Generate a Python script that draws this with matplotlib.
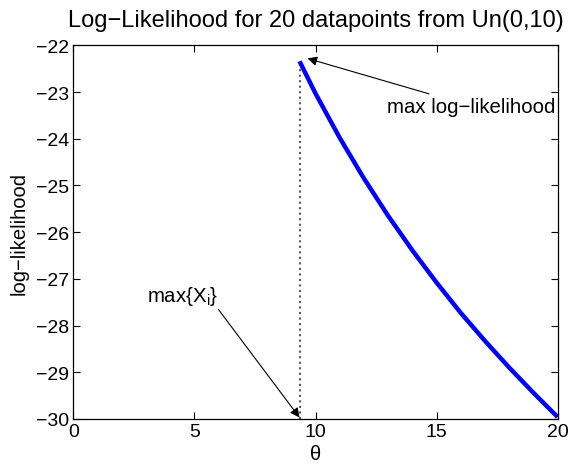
import numpy as np
from matplotlib import pyplot as plt

plt.rcParams['font.family'] = ['Liberation Sans', 'DejaVu Sans']

# === DATA ===
theta = [9.34, 10, 11, 12, 13, 14, 15, 16, 17, 18, 19, 20]
loglik = [-22.34, -23.03, -23.98, -24.85, -25.65, -26.39, -27.08, -27.73, -28.33, -28.90, -29.44, -29.96]
max_x = 9.34
x_ticks = [0, 5, 10, 15, 20]
y_ticks = [-30, -29, -28, -27, -26, -25, -24, -23, -22]

fig = plt.figure(figsize=(5.69, 4.64), dpi=100)
ax = fig.add_axes([0.129, 0.095, 0.851, 0.805])

# dotted marker at max{X_i}
ax.plot([max_x, max_x], [y_ticks[0], loglik[0]], color='0.35', linestyle=':', linewidth=1.5)
ax.plot(theta, loglik, color='#0000ff', linewidth=3.2, solid_capstyle='butt')

arrow = dict(arrowstyle='-|>', color='black', linewidth=0.8, mutation_scale=14, shrinkA=0, shrinkB=0)
ax.annotate('max log\u2212likelihood', xy=(9.67, -22.28), xytext=(12.95, -23.3),
            fontsize=14.7, va='center', ha='left', arrowprops=arrow)
ax.annotate('max{X$_\\mathregular{i}$}', xy=(max_x, -29.97), xytext=(3.05, -27.35),
            fontsize=14.7, va='center', ha='left', arrowprops=dict(arrow, relpos=(0.97, 0.0)))

ax.set_xlim(0, 20)
ax.set_ylim(-30, -22)
ax.set_xticks(x_ticks)
ax.set_yticks(y_ticks)
ax.tick_params(direction='in', top=True, right=True, labelsize=14, length=5, pad=3)
for s in ax.spines.values():
    s.set_linewidth(0.9)

ax.set_xlabel('\u03b8', fontsize=14.5, labelpad=3)
ax.set_ylabel('log\u2212likelihood', fontsize=14.5, labelpad=5)
ax.set_title('Log\u2212Likelihood for 20 datapoints from Un(0,10)', fontsize=17, pad=14)

fig.savefig('out.png', dpi=100)
